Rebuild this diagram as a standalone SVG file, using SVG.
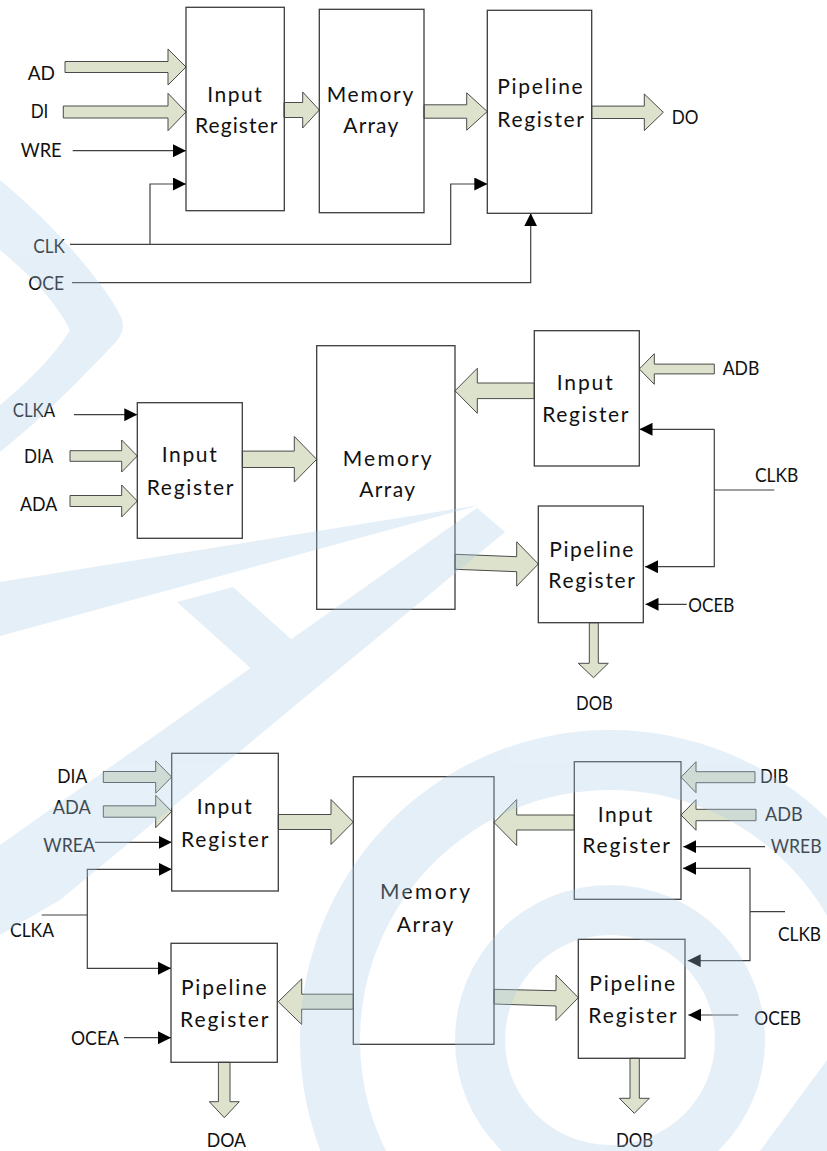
<svg xmlns="http://www.w3.org/2000/svg" width="827" height="1151" viewBox="0 0 827 1151">
<style>
.box{fill:none;stroke:#3c3c3c;stroke-width:1.3}
.fat{fill:#dde2cd;stroke:#4a4a4a;stroke-width:1}
.ln{fill:none;stroke:#404040;stroke-width:1.2}
.t{font-family:Lato,"Liberation Sans",sans-serif;font-size:20px;fill:#111}
.bt{font-size:21px}
</style>
<defs>
<marker id="ah" markerUnits="userSpaceOnUse" markerWidth="13" markerHeight="13" refX="13" refY="6.5" orient="auto">
<path d="M0,0 L13,6.5 L0,13 Z" fill="#000"/>
</marker>
</defs>
<rect width="827" height="1151" fill="#fff"/>

<g id="connectors">
<!-- section 1 -->
<polygon class="fat" points="65,61.5 168,61.5 168,49 186,67 168,85 168,72.5 65,72.5"/>
<polygon class="fat" points="63.3,106 168,106 168,93.3 186,112 168,130.7 168,118 63.3,118"/>
<polygon class="fat" points="284,102.5 302.7,102.5 302.7,92 319.3,110 302.7,128 302.7,117.5 284,117.5"/>
<polygon class="fat" points="424,104.8 466.7,104.8 466.7,92.8 487.3,111.5 466.7,130.2 466.7,118.2 424,118.2"/>
<polygon class="fat" points="591.7,106.1 644.3,106.1 644.3,94 663.3,112.3 644.3,130.6 644.3,118.5 591.7,118.5"/>
<path class="ln" d="M72.7,150.7 H186" marker-end="url(#ah)"/>
<path class="ln" d="M70,244.3 H450.7 V184 H487.3" marker-end="url(#ah)"/>
<path class="ln" d="M150,244.3 V184 H186" marker-end="url(#ah)"/>
<path class="ln" d="M72,282.7 H530.7 V213.3" marker-end="url(#ah)"/>
<!-- section 2 -->
<polygon class="fat" points="70,450.7 121.7,450.7 121.7,440 137.3,456 121.7,472 121.7,461.3 70,461.3"/>
<polygon class="fat" points="70,495.5 121.7,495.5 121.7,485 137.3,501 121.7,517 121.7,506.5 70,506.5"/>
<polygon class="fat" points="242.3,451.1 294.3,451.1 294.3,436.5 316.7,459.3 294.3,482.1 294.3,467.5 242.3,467.5"/>
<polygon class="fat" points="534.3,383 477.3,383 477.3,368.3 455,390.8 477.3,413.3 477.3,398.6 534.3,398.6"/>
<polygon class="fat" points="714.3,364.1 654.3,364.1 654.3,353.7 639.3,369 654.3,384.3 654.3,373.9 714.3,373.9"/>
<polygon class="fat" points="455,554.3 516.7,556.7 516.7,541.8 538.3,564 516.7,586.2 516.7,571.7 455,569.3"/>
<polygon class="fat" points="589.3,622.7 589.3,663.3 578.3,663.3 593.5,677.7 608.3,663.3 598.3,663.3 598.3,622.7"/>
<path class="ln" d="M74,414.7 H137.3" marker-end="url(#ah)"/>
<path class="ln" d="M774.3,490 H714.3"/>
<path class="ln" d="M714.3,429.3 H639.5" marker-end="url(#ah)"/>
<path class="ln" d="M714.3,429.3 V566.7 H645" marker-end="url(#ah)"/>
<path class="ln" d="M686.7,604.3 H645.5" marker-end="url(#ah)"/>
<!-- section 3 -->
<polygon class="fat" points="103.3,771.5 155.7,771.5 155.7,760.8 171.7,777 155.7,793.2 155.7,782.5 103.3,782.5"/>
<polygon class="fat" points="103.3,805.8 155.7,805.8 155.7,795.3 171.7,811.5 155.7,827.7 155.7,817.2 103.3,817.2"/>
<polygon class="fat" points="278.3,814.5 331,814.5 331,799.5 353.3,822 331,844.5 331,829.5 278.3,829.5"/>
<polygon class="fat" points="353.3,994.2 301.7,994.2 301.7,978.9 278.3,1001.7 301.7,1024.5 301.7,1009.2 353.3,1009.2"/>
<polygon class="fat" points="218.4,1062.3 218.4,1101.7 209.3,1101.7 224.3,1117.7 239.3,1101.7 230,1101.7 230,1062.3"/>
<polygon class="fat" points="574.3,815 516.7,815 516.7,799.5 494,822.5 516.7,845.5 516.7,830 574.3,830"/>
<polygon class="fat" points="755,771.7 696,771.7 696,761.7 681,777.2 696,792.7 696,782.7 755,782.7"/>
<polygon class="fat" points="756,809.3 696,809.3 696,799.7 681,815 696,830.3 696,820.7 756,820.7"/>
<polygon class="fat" points="494,989.3 556,990.7 556,975 578.3,997.7 556,1020.5 556,1006 494,1004"/>
<polygon class="fat" points="630,1058.3 630,1098.3 619.3,1098.3 634.3,1113.3 649.3,1098.3 639.3,1098.3 639.3,1058.3"/>
<path class="ln" d="M95,842.3 H171.7" marker-end="url(#ah)"/>
<path class="ln" d="M41.7,915 H87.3"/>
<path class="ln" d="M87.3,915 V869.3 H171.7" marker-end="url(#ah)"/>
<path class="ln" d="M87.3,915 V968.3 H171" marker-end="url(#ah)"/>
<path class="ln" d="M124,1037.7 H171" marker-end="url(#ah)"/>
<path class="ln" d="M765,846.7 H683.3" marker-end="url(#ah)"/>
<path class="ln" d="M785,911.7 H750"/>
<path class="ln" d="M750,911.7 V868.3 H683" marker-end="url(#ah)"/>
<path class="ln" d="M750,911.7 V960.7 H687.7" marker-end="url(#ah)"/>
<path class="ln" d="M738.3,1015 H688.3" marker-end="url(#ah)"/>
</g>

<g id="sec1-input-register"><rect class="box" x="186" y="7.3" width="98.3" height="203.4"/>
<text class="t bt" x="207.3" y="101.7" textLength="54.4">Input</text><text class="t bt" x="195" y="133.3" textLength="82.3">Register</text></g>
<g id="sec1-memory-array"><rect class="box" x="319.3" y="9.3" width="104.7" height="203.4"/>
<text class="t bt" x="326.7" y="101.7" textLength="86.6">Memory</text><text class="t bt" x="343.3" y="133.3" textLength="55">Array</text></g>
<g id="sec1-pipeline-register"><rect class="box" x="487.3" y="10.3" width="104.4" height="203"/>
<text class="t bt" x="497.3" y="94" textLength="85.4">Pipeline</text><text class="t bt" x="497.3" y="126.7" textLength="86.7">Register</text></g>

<g id="sec2-input-register-a"><rect class="box" x="137.3" y="402.7" width="105" height="135.6"/>
<text class="t bt" x="161.7" y="461.7" textLength="55">Input</text><text class="t bt" x="146.7" y="495" textLength="86.6">Register</text></g>
<g id="sec2-memory-array"><rect class="box" x="316.7" y="345.7" width="138.3" height="263.6"/>
<text class="t bt" x="342.7" y="465.7" textLength="89">Memory</text><text class="t bt" x="359.3" y="497.3" textLength="55.7">Array</text></g>
<g id="sec2-input-register-b"><rect class="box" x="534.3" y="330.7" width="105" height="135.3"/>
<text class="t bt" x="556.7" y="390" textLength="56">Input</text><text class="t bt" x="542.3" y="421.7" textLength="86">Register</text></g>
<g id="sec2-pipeline-register-b"><rect class="box" x="538.3" y="506" width="105" height="116.7"/>
<text class="t bt" x="549.3" y="556.7" textLength="84">Pipeline</text><text class="t bt" x="548.3" y="588.3" textLength="86.7">Register</text></g>

<g id="sec3-input-register-a"><rect class="box" x="171.7" y="753.3" width="106.6" height="137.7"/>
<text class="t bt" x="196.7" y="814" textLength="55">Input</text><text class="t bt" x="181" y="846.7" textLength="87.3">Register</text></g>
<g id="sec3-pipeline-register-a"><rect class="box" x="171" y="943.3" width="106.3" height="119"/>
<text class="t bt" x="181" y="995" textLength="85.7">Pipeline</text><text class="t bt" x="180" y="1027.3" textLength="88.3">Register</text></g>
<g id="sec3-memory-array"><rect class="box" x="353.3" y="776.7" width="140.7" height="267.6"/>
<text class="t bt" x="380" y="899.3" textLength="90">Memory</text><text class="t bt" x="396.7" y="931.7" textLength="56.6">Array</text></g>
<g id="sec3-input-register-b"><rect class="box" x="574.3" y="761.7" width="106.7" height="137.6"/>
<text class="t bt" x="597.7" y="821.7" textLength="54.6">Input</text><text class="t bt" x="582.3" y="853.3" textLength="87.7">Register</text></g>
<g id="sec3-pipeline-register-b"><rect class="box" x="578.3" y="939.3" width="106.7" height="119"/>
<text class="t bt" x="589.3" y="990.7" textLength="85.7">Pipeline</text><text class="t bt" x="588.3" y="1023.3" textLength="88.3">Register</text></g>

<g id="labels">
<text class="t" lengthAdjust="spacingAndGlyphs" x="27.7" y="79.5" textLength="27.3">AD</text>
<text class="t" lengthAdjust="spacingAndGlyphs" x="30.7" y="118.3" textLength="17.7">DI</text>
<text class="t" lengthAdjust="spacingAndGlyphs" x="20.7" y="156.7" textLength="41">WRE</text>
<text class="t" lengthAdjust="spacingAndGlyphs" x="33.3" y="253.3" textLength="31.7">CLK</text>
<text class="t" lengthAdjust="spacingAndGlyphs" x="28.3" y="290" textLength="35.7">OCE</text>
<text class="t" lengthAdjust="spacingAndGlyphs" x="671.7" y="124" textLength="26.7">DO</text>
<text class="t" lengthAdjust="spacingAndGlyphs" x="12.7" y="417.3" textLength="42.3">CLKA</text>
<text class="t" lengthAdjust="spacingAndGlyphs" x="24" y="462.7" textLength="29.3">DIA</text>
<text class="t" lengthAdjust="spacingAndGlyphs" x="20" y="511" textLength="37.3">ADA</text>
<text class="t" lengthAdjust="spacingAndGlyphs" x="722.7" y="375" textLength="36.6">ADB</text>
<text class="t" lengthAdjust="spacingAndGlyphs" x="755" y="481.7" textLength="43.3">CLKB</text>
<text class="t" lengthAdjust="spacingAndGlyphs" x="688.3" y="611.7" textLength="46">OCEB</text>
<text class="t" lengthAdjust="spacingAndGlyphs" x="576" y="710" textLength="36.7">DOB</text>
<text class="t" lengthAdjust="spacingAndGlyphs" x="57.3" y="783.3" textLength="30">DIA</text>
<text class="t" lengthAdjust="spacingAndGlyphs" x="52.7" y="814" textLength="38">ADA</text>
<text class="t" lengthAdjust="spacingAndGlyphs" x="43.3" y="851.7" textLength="51.7">WREA</text>
<text class="t" lengthAdjust="spacingAndGlyphs" x="10" y="937.3" textLength="44">CLKA</text>
<text class="t" lengthAdjust="spacingAndGlyphs" x="71" y="1045" textLength="48">OCEA</text>
<text class="t" lengthAdjust="spacingAndGlyphs" x="206.7" y="1146.7" textLength="39.3">DOA</text>
<text class="t" lengthAdjust="spacingAndGlyphs" x="760" y="783.3" textLength="28.3">DIB</text>
<text class="t" lengthAdjust="spacingAndGlyphs" x="765" y="821" textLength="37.7">ADB</text>
<text class="t" lengthAdjust="spacingAndGlyphs" x="770.7" y="853.3" textLength="51">WREB</text>
<text class="t" lengthAdjust="spacingAndGlyphs" x="778" y="941" textLength="43" style="font-size:19px">CLKB</text>
<text class="t" lengthAdjust="spacingAndGlyphs" x="754.3" y="1025" textLength="46.7">OCEB</text>
<text class="t" lengthAdjust="spacingAndGlyphs" x="616" y="1146.7" textLength="37.3">DOB</text>
</g>

<g id="watermark" fill="#accde8" opacity="0.3">
<path d="M0,180 C55,225 105,285 120,315 C126,327 122,336 112,346 C75,385 40,420 0,452 L0,405 C30,380 55,355 70,330 C55,300 30,275 0,250 Z"/>
<path d="M0,582 L480,505 L0,636 Z"/>
<path d="M477,508 L505,532 L60,900 L0,935 L0,845 Z"/>
<path d="M177,602 L233,587 L292,640 L255,672 Z"/>
<path fill-rule="evenodd" d="M300,1040 A310,310 0 1,1 920,1040 A310,310 0 1,1 300,1040 Z M360,1040 A250,250 0 1,0 860,1040 A250,250 0 1,0 360,1040 Z"/>
<path fill-rule="evenodd" d="M455,1040 A155,155 0 1,1 765,1040 A155,155 0 1,1 455,1040 Z M505,1040 A105,105 0 1,0 715,1040 A105,105 0 1,0 505,1040 Z"/>
<path d="M760,1151 L827,1060 L827,1151 Z"/>
</g>
</svg>
